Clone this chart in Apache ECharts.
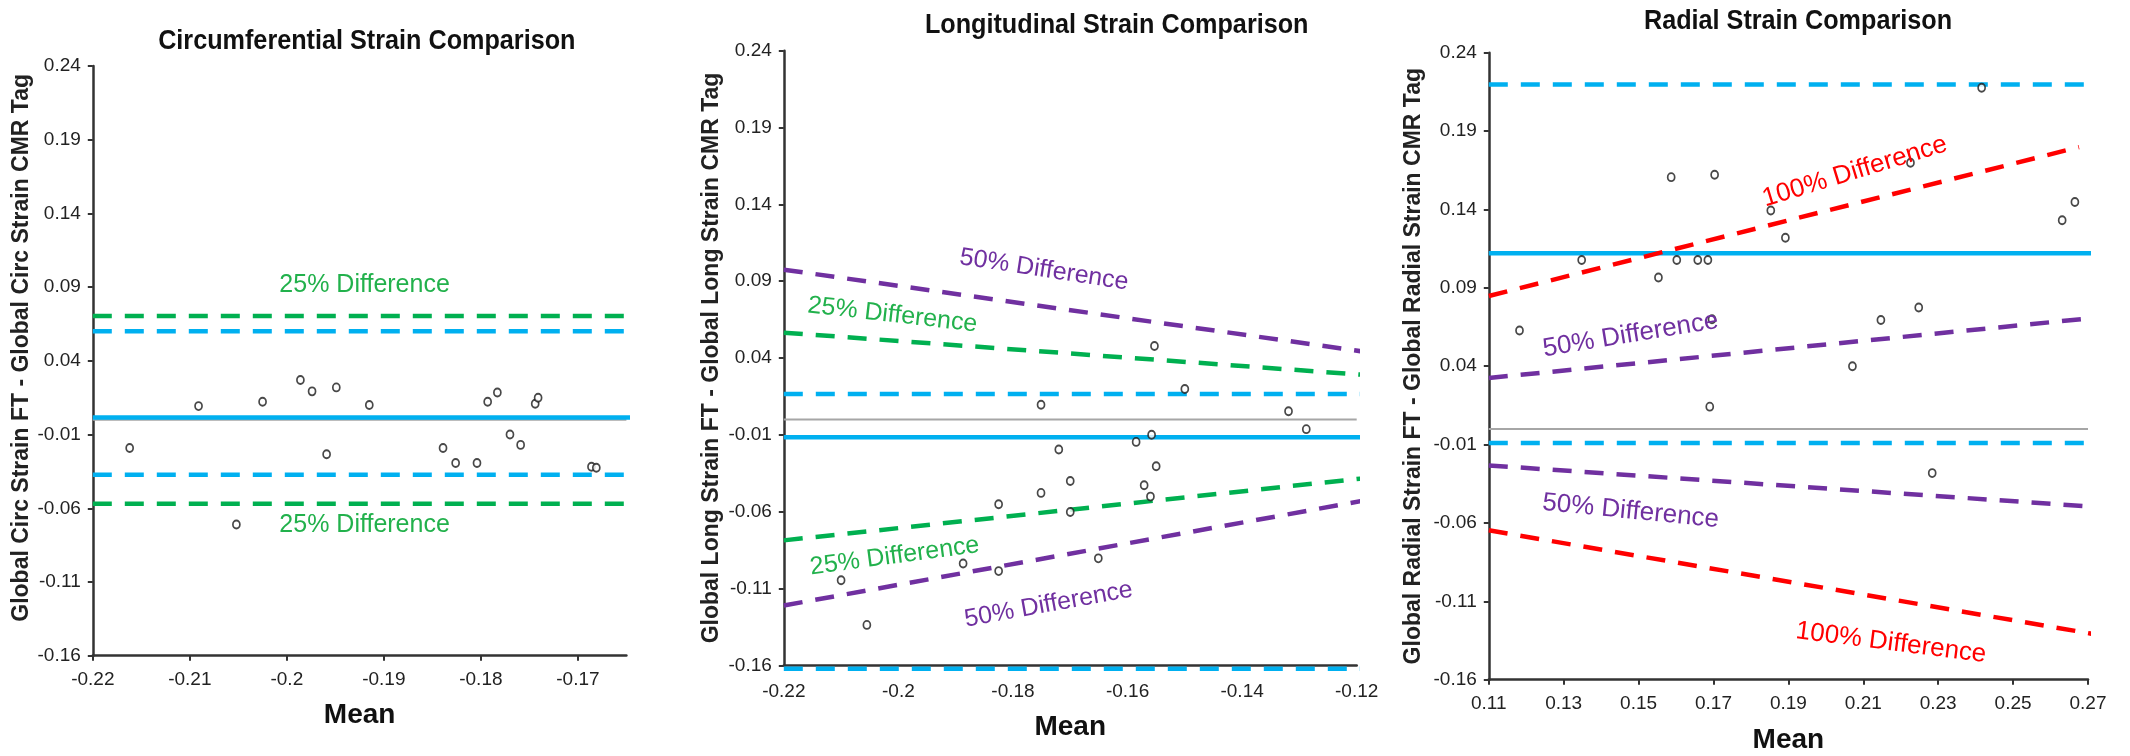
<!DOCTYPE html>
<html><head><meta charset="utf-8">
<script src="https://cdn.jsdelivr.net/npm/echarts@6/dist/echarts.min.js"></script>
<style>html,body{margin:0;padding:0;background:#fff}#c{width:2130px;height:756px}</style>
</head><body><div id="c"></div>
<script>
// ---------- Panel 1: Circumferential ----------
const circMean = [-0.2162,-0.2091,-0.2052,-0.2025,-0.1986,-0.1974,-0.1959,-0.1949,-0.1915,-0.1839,-0.1826,-0.1804,-0.1793,-0.1783,-0.1770,-0.1759,-0.1744,-0.1741,-0.1686,-0.1681];
const circDiff = [-0.0191,0.0093,-0.0710,0.0122,0.0270,0.0193,-0.0234,0.0220,0.0100,-0.0191,-0.0293,-0.0293,0.0122,0.0185,-0.0100,-0.0170,0.0109,0.0150,-0.0318,-0.0325];
const circXTicks = [-0.22,-0.21,-0.2,-0.19,-0.18,-0.17];
const circXRange = [-0.22,-0.165];
const circLineX = [-0.22,-0.163];
const circBias = 0.0015;
const circLoA = [0.060,-0.0373];
const circPct25 = [0.0704,-0.057];

// ---------- Panel 2: Longitudinal ----------
const longMean = [-0.1553,-0.1500,-0.1751,-0.1319,-0.1288,-0.1558,-0.1585,-0.1720,-0.1550,-0.1700,-0.1571,-0.1751,-0.1560,-0.1825,-0.1700,-0.1887,-0.1825,-0.1651,-0.2100,-0.2055];
const longDiff = [0.0478,0.0198,0.0096,0.0054,-0.0063,-0.0100,-0.0146,-0.0196,-0.0304,-0.0400,-0.0428,-0.0478,-0.0502,-0.0552,-0.0602,-0.0937,-0.0987,-0.0904,-0.1046,-0.1337];
const longXTicks = [-0.22,-0.2,-0.18,-0.16,-0.14,-0.12];
const longXRange = [-0.22,-0.12];
const longLineX = [-0.22,-0.1145];
const longPctX = [-0.22,-0.1176];
const longBias = -0.0115;
const longLoA = [0.0165,-0.1622];
const longPct25Upper = [0.0565,0.0287];
const longPct25Lower = [-0.0787,-0.0378];
const longPct50Upper = [0.0975,0.0435];
const longPct50Lower = [-0.1211,-0.0520];

// ---------- Panel 3: Radial ----------
const radMean = [0.2416,0.1587,0.1703,0.2226,0.1853,0.1892,0.2665,0.2631,0.1348,0.1602,0.1658,0.1685,0.1553,0.1182,0.1696,0.2147,0.2248,0.2071,0.1690,0.2284];
const radDiff = [0.2176,0.1606,0.1621,0.1698,0.1393,0.1220,0.1448,0.1331,0.1077,0.1077,0.1077,0.1077,0.0966,0.0628,0.0699,0.0695,0.0774,0.0400,0.0142,-0.0282];
const radXTicks = [0.11,0.13,0.15,0.17,0.19,0.21,0.23,0.25,0.27];
const radXRange = [0.11,0.27];
const radLineX = [0.11,0.2724];
const radBias = 0.112;
const radLoA = [0.2197,-0.009];
const radPct100UpperX = [0.11,0.2676];
const radPct100Upper = [0.0848,0.1798];
const radPct100LowerX = [0.11,0.2718];
const radPct100Lower = [-0.0647,-0.131];
const radPct50Upper = [0.0325,0.071];
const radPct50Lower = [-0.0233,-0.0498];

const yTicks = [-0.16,-0.11,-0.06,-0.01,0.04,0.09,0.14,0.19,0.24];
const yRange = [-0.16,0.24];

const titles = ['Circumferential Strain Comparison','Longitudinal Strain Comparison','Radial Strain Comparison'];
const yNames = ['Global Circ Strain FT - Global Circ Strain CMR Tag','Global Long Strain FT - Global Long Strain CMR Tag','Global Radial Strain FT - Global Radial Strain CMR Tag'];

// ---------- styling ----------
const BLUE='#00B0F0', GREEN='#00B050', PURPLE='#7030A0', RED='#FF0000', GREY='#A6A6A6';
const SANS="'Liberation Sans',Arial,sans-serif";
const DASH=[19,13];
const fmt = v => String(parseFloat(Number(v).toFixed(2)));

const grids = [
  {left:92.8, top:66, width:533.6, height:589.7},
  {left:783.8, top:50.7, width:572.9, height:614.6},
  {left:1488.8, top:52.7, width:599.2, height:627}
].map(g => Object.assign({outerBoundsMode:'none', containLabel:false}, g));

const xRanges=[circXRange,longXRange,radXRange];
const xTicks=[circXTicks,longXTicks,radXTicks];
const xLabelMargin=[15,17,15];
const xNameGap=[46,48,47];
const xTickShow=[true,false,true];
const yNameGap=[56,61,64];
const yNamePad=[[0,0,0,26],0,0];

const axisLine = {show:true, onZero:false, lineStyle:{color:'#333', width:2.5}};

const xAxis = [0,1,2].map(i => ({
  type:'value', gridIndex:i, min:xRanges[i][0], max:xRanges[i][1],
  axisLine, splitLine:{show:false},
  axisTick:{show:xTickShow[i], length:5, lineStyle:{color:'#333', width:2}, customValues:xTicks[i]},
  axisLabel:{customValues:xTicks[i], formatter:fmt, fontSize:19, fontFamily:SANS, color:'#222', margin:xLabelMargin[i]},
  name:'Mean', nameLocation:'middle', nameGap:xNameGap[i],
  nameTextStyle:{fontSize:28, fontWeight:'bold', fontFamily:SANS, color:'#111'}
}));
const yAxis = [0,1,2].map(i => ({
  type:'value', gridIndex:i, min:yRange[0], max:yRange[1],
  axisLine, splitLine:{show:false},
  axisTick:{show:true, length:5, lineStyle:{color:'#333', width:2}, customValues:yTicks},
  axisLabel:{customValues:yTicks, formatter:fmt, fontSize:19, fontFamily:SANS, color:'#222', margin:12},
  name:yNames[i], nameLocation:'middle', nameRotate:90, nameGap:yNameGap[i],
  nameTextStyle:{fontSize:23, fontWeight:'bold', fontFamily:SANS, color:'#222', padding:yNamePad[i]}
}));

const series = [];
function ref(i, xs, ys, color, dashed, width, z) {
  series.push({type:'line', xAxisIndex:i, yAxisIndex:i, data:[[xs[0],ys[0]],[xs[1],ys[1]]],
    symbol:'none', clip:false, silent:true, animation:false, z:z||2,
    lineStyle:{color, width:width||4.5, type:dashed?DASH:'solid', cap:'butt'}});
}
function pts(i, xs, ys) {
  series.push({type:'scatter', xAxisIndex:i, yAxisIndex:i, data:xs.map((x,k)=>[x,ys[k]]),
    symbol:'circle', symbolSize:[7,8], z:5, animation:false,
    itemStyle:{color:'#fff', borderColor:'#1a1a1a', borderWidth:1.8}});
}
// panel 1
ref(0, circXRange, [0,0], GREY, false, 2, 1);
ref(0, circLineX, [circBias,circBias], BLUE, false, 4.5);
ref(0, circLineX, [circLoA[0],circLoA[0]], BLUE, true);
ref(0, circLineX, [circLoA[1],circLoA[1]], BLUE, true);
ref(0, circLineX, [circPct25[0],circPct25[0]], GREEN, true);
ref(0, circLineX, [circPct25[1],circPct25[1]], GREEN, true);
pts(0, circMean, circDiff);
// panel 2
ref(1, longXRange, [0,0], GREY, false, 2, 1);
ref(1, longLineX, [longBias,longBias], BLUE, false, 4.5);
ref(1, longLineX, [longLoA[0],longLoA[0]], BLUE, true);
ref(1, longLineX, [longLoA[1],longLoA[1]], BLUE, true);
ref(1, longPctX, longPct25Upper, GREEN, true);
ref(1, longPctX, longPct25Lower, GREEN, true);
ref(1, longPctX, longPct50Upper, PURPLE, true);
ref(1, longPctX, longPct50Lower, PURPLE, true);
pts(1, longMean, longDiff);
// panel 3
ref(2, radXRange, [0,0], GREY, false, 2, 1);
ref(2, radLineX, [radBias,radBias], BLUE, false, 4.5);
ref(2, radLineX, [radLoA[0],radLoA[0]], BLUE, true);
ref(2, radLineX, [radLoA[1],radLoA[1]], BLUE, true);
ref(2, radPct100UpperX, radPct100Upper, RED, true);
ref(2, radPct100LowerX, radPct100Lower, RED, true);
ref(2, radLineX, radPct50Upper, PURPLE, true);
ref(2, radLineX, radPct50Lower, PURPLE, true);
pts(2, radMean, radDiff);

// ---------- text annotations ----------
const deg = d => d*Math.PI/180;
function txt(text, x, y, rotDeg, color, size, weight, sx) {
  return {type:'text', x, y, rotation:deg(rotDeg||0), scaleX:sx||1, silent:true, z:10,
    style:{text, fill:color, fontSize:size, fontWeight:weight||'normal', fontFamily:SANS,
      align:'center', verticalAlign:'middle'}};
}
const LG='#22B14C', LP='#7030A0', LR='#FF0000';
const graphic = [
  txt(titles[0], 366.8, 41.7, 0, '#111', 28, 'bold', 0.9),
  txt(titles[1], 1116.7, 25, 0, '#111', 28, 'bold', 0.9),
  txt(titles[2], 1798, 21.7, 0, '#111', 28, 'bold', 0.9),
  txt('25% Difference', 364.6, 285, 0, LG, 25),
  txt('25% Difference', 364.6, 524.7, 0, LG, 25),
  txt('50% Difference', 1044, 270, -8.7, LP, 25),
  txt('25% Difference', 892.5, 315, -6.5, LG, 25),
  txt('25% Difference', 894.7, 556.3, 7.6, LG, 25),
  txt('50% Difference', 1048.7, 604.7, 10.3, LP, 25),
  txt('100% Difference', 1854.8, 171.7, 17, LR, 26),
  txt('50% Difference', 1630.6, 335, 9.3, LP, 26),
  txt('50% Difference', 1630.6, 511.3, -5.6, LP, 26),
  txt('100% Difference', 1891, 643, -7.2, LR, 26)
];

const chart = echarts.init(document.getElementById('c'), null, {renderer:'canvas'});
chart.setOption({animation:false, backgroundColor:'#fff', grid:grids, xAxis, yAxis, series, graphic});
</script>
</body></html>
